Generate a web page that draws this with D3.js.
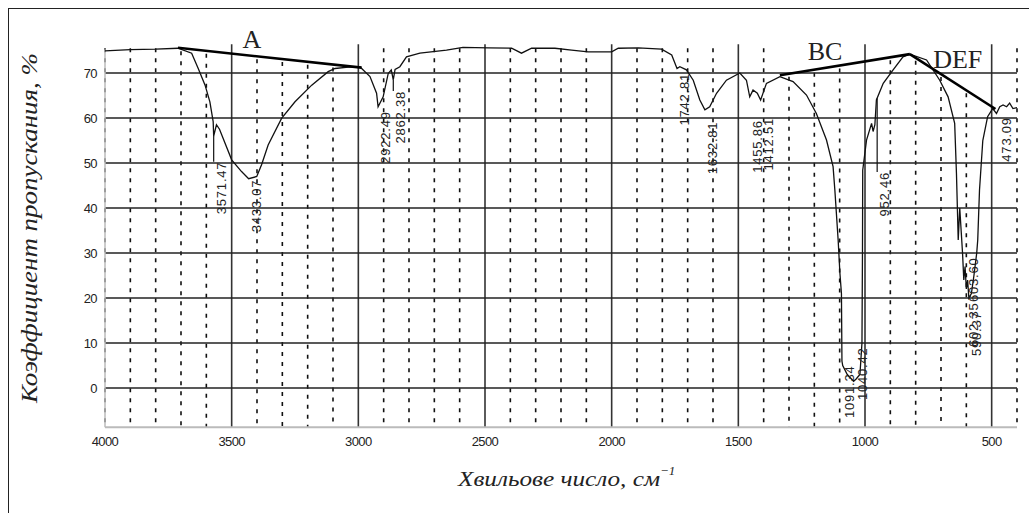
<!DOCTYPE html>
<html>
<head>
<meta charset="utf-8">
<script src="https://cdn.jsdelivr.net/npm/d3@7"></script>
<style>
body { margin: 0; background: #fff; }
</style>
</head>
<body>
<div id="chart"></div>
<script>
// spectrum (cm-1, %)
var waveNum = [4000, 3900, 3800, 3712, 3658, 3632, 3605, 3586, 3573, 3571, 3560, 3548, 3500, 3461, 3433, 3401,
    3382, 3356, 3303, 3250, 3184, 3119, 3092, 3040, 2994, 2954, 2928, 2922, 2902, 2882, 2870, 2862, 2855,
    2836, 2810, 2757, 2652, 2587, 2487, 2395, 2356, 2316, 2224, 2158, 2093, 2000, 1974, 1895, 1803, 1763,
    1742, 1731, 1705, 1678, 1652, 1632, 1613, 1586, 1547, 1494, 1468, 1455, 1442, 1425, 1412, 1389, 1336,
    1284, 1231, 1192, 1152, 1126, 1119, 1106, 1099, 1093, 1091, 1088, 1070, 1045, 1035, 1020, 1012, 1010,
    1009, 994, 974, 968, 961, 955, 928, 889, 850, 823, 757, 705, 672, 646, 639, 632, 626, 615, 610, 605,
    600, 595, 590, 580, 570, 559, 555, 548, 535, 516, 496, 481, 468, 455, 441, 429, 416, 400];
var transm = [74.9, 75.2, 75.3, 75.5, 74.4, 71, 67.3, 63.6, 59.2, 56.0, 58.5, 57.5, 50.7, 48.1, 46.5, 47.0,
    49.6, 54, 59.9, 63.6, 67.3, 70.3, 71, 71.3, 71.4, 69.2, 65.5, 62.5, 64.7, 69.9, 70.7, 68.5, 70.8,
    71.4, 73.6, 74.4, 75.1, 75.7, 75.6, 75.5, 74.4, 75.5, 75.5, 75.1, 74.7, 74.7, 75.5, 75.6, 75.3, 74.0,
    71.0, 71.4, 70.7, 68.4, 64, 61.8, 62.5, 65.5, 68.4, 70, 68.4, 64.7, 66.2, 65.5, 64, 67.7, 69.2,
    68.1, 65.1, 61, 55.1, 49.2, 44, 32.9, 25.5, 21, 6, 5, 3, 1.5, 2, 3, 10, 30,
    48.4, 55.1, 58.8, 57.0, 58.5, 64, 67.7, 70.7, 73.6, 74.2, 72.9, 68.4, 64.7, 58.8, 47.7, 32.9, 40, 30, 24, 27,
    22, 24, 20, 21, 25, 30, 32.9, 44, 55, 60.3, 62.1, 61, 62.5, 62.9, 62.5, 63.3, 62.1, 62.3];

var xTicks = [4000, 3500, 3000, 2500, 2000, 1500, 1000, 500];
var yTicks = [0, 10, 20, 30, 40, 50, 60, 70];

// peak labels: position, text, value where the label starts, leader line or not
var peakWn = [3571, 3433, 2922, 2862, 1742, 1632, 1455, 1412, 952, 1091, 1040, 603, 600, 590, 473];
var peakText = ["3571.47", "3433.07", "2922.49", "2862.38", "1742.81", "1632.81", "1455.86", "1412.51",
    "952.46", "1091.34", "1040.42", "603.60", "602.35", "590.37", "473.09"];
var peakTop = [50.3, 46.3, 61.5, 66, 70, 59.2, 59.5, 60, 48, 5, 9, 29, 19, 17, 60.2];
var peakLead = [1, 0, 0, 1, 0, 0, 0, 0, 1, 0, 0, 0, 0, 0, 0];

// baselines drawn over the bands
var baseA = [[3712, 75.6], [2987, 71.2]];
var baseBC = [[1336, 69.5], [823, 74.2]];
var baseDEF = [[823, 74.2], [485, 62]];
var bandNames = ["A", "BC", "DEF"];
var bandWn = [3420, 1158, 634];
var bandT = [75.6, 72.9, 71.1];

var width = 1029,
    height = 513;

var svg = d3.select("#chart")
    .append("svg")
    .attr("width", width)
    .attr("height", height);

var x = d3.scaleLinear().domain([4000, 400]).range([105, 1017]);
var y = d3.scaleLinear().domain([0, 70]).range([388, 73]);

var yBot = y(-8.7);

function interp(pts, w) {
    var a = pts[0], b = pts[1];
    return a[1] + (b[1] - a[1]) * (w - a[0]) / (b[0] - a[0]);
}
// where the dashed lines start: under the baselines if there is one
function dashTop(w) {
    var top = y(75.5);
    [baseA, baseBC, baseDEF].forEach(function(b) {
        if (w <= b[0][0] && w >= b[1][0]) top = Math.max(top, y(interp(b, w)) + 3);
    });
    return top;
}

// outer frame
svg.append("line").attr("x1", 8.5).attr("x2", 8.5).attr("y1", 8).attr("y2", height).attr("stroke", "#222");
svg.append("line").attr("x1", 8).attr("x2", width).attr("y1", 8.5).attr("y2", 8.5).attr("stroke", "#222");

// dashed grid every 100
var minor = d3.range(4000, 399, -100).filter(function(d) { return d % 500 !== 0 || d === 4000; });
svg.append("g").selectAll("line")
    .data(minor)
    .enter().append("line")
    .attr("x1", function(d) { return x(d); })
    .attr("x2", function(d) { return x(d); })
    .attr("y1", function(d) { return dashTop(d); })
    .attr("y2", yBot)
    .attr("stroke", "#111")
    .attr("stroke-width", 1.6)
    .attr("stroke-dasharray", "4,6");

// solid grid
svg.append("g").selectAll("line")
    .data(xTicks.slice(1))
    .enter().append("line")
    .attr("x1", function(d) { return x(d); })
    .attr("x2", function(d) { return x(d); })
    .attr("y1", y(76.4))
    .attr("y2", yBot)
    .attr("stroke", "#333")
    .attr("stroke-width", 1.6);

svg.append("g").selectAll("line")
    .data(yTicks)
    .enter().append("line")
    .attr("x1", x(4000))
    .attr("x2", x(400))
    .attr("y1", function(d) { return y(d); })
    .attr("y2", function(d) { return y(d); })
    .attr("stroke", "#222")
    .attr("stroke-width", 1.6);

// axes
svg.append("line").attr("x1", x(4000)).attr("x2", x(400)).attr("y1", yBot).attr("y2", yBot)
    .attr("stroke", "#bbb").attr("stroke-width", 2);
svg.append("line").attr("x1", x(4000)).attr("x2", x(4000)).attr("y1", y(75.3)).attr("y2", yBot)
    .attr("stroke", "#bbb").attr("stroke-width", 1.5);

svg.append("g").selectAll("text")
    .data(xTicks)
    .enter().append("text")
    .attr("x", function(d) { return x(d); })
    .attr("y", yBot + 19)
    .attr("text-anchor", "middle")
    .attr("font-family", "Liberation Sans, Arial, sans-serif")
    .attr("font-size", 13)
    .attr("letter-spacing", -0.6)
    .attr("fill", "#222")
    .text(function(d) { return d; });

svg.append("g").selectAll("text")
    .data(yTicks)
    .enter().append("text")
    .attr("x", 97)
    .attr("y", function(d) { return y(d) + 5; })
    .attr("text-anchor", "end")
    .attr("font-family", "Liberation Sans, Arial, sans-serif")
    .attr("font-size", 13)
    .attr("letter-spacing", -0.6)
    .attr("fill", "#222")
    .text(function(d) { return d; });

// axis titles
svg.append("text")
    .attr("transform", "translate(37,228) rotate(-90)")
    .attr("text-anchor", "middle")
    .attr("font-family", "Liberation Serif, serif")
    .attr("font-style", "italic")
    .attr("font-size", 24)
    .attr("textLength", 350)
    .attr("lengthAdjust", "spacingAndGlyphs")
    .attr("fill", "#222")
    .text("Коэффициент пропускания, %");

var xt = svg.append("text")
    .attr("x", 458)
    .attr("y", 486)
    .attr("font-family", "Liberation Serif, serif")
    .attr("font-style", "italic")
    .attr("font-size", 21)
    .attr("fill", "#222");
xt.append("tspan").attr("textLength", 202).attr("lengthAdjust", "spacingAndGlyphs").text("Хвильове число, см");
xt.append("tspan").attr("font-size", 13).attr("dy", -11).text("−1");

// spectrum
var spectrum = waveNum.map(function(d, i) { return [d, transm[i]]; });
var line = d3.line()
    .x(function(d) { return x(d[0]); })
    .y(function(d) { return y(d[1]); });

svg.append("path")
    .datum(spectrum)
    .attr("fill", "none")
    .attr("stroke", "#111")
    .attr("stroke-width", 1.3)
    .attr("d", line);

// baselines
[baseA, baseBC, baseDEF].forEach(function(b) {
    svg.append("path")
        .datum(b)
        .attr("fill", "none")
        .attr("stroke", "#000")
        .attr("stroke-width", 2.6)
        .attr("d", line);
});

svg.append("g").selectAll("text")
    .data(bandNames)
    .enter().append("text")
    .attr("x", function(d, i) { return x(bandWn[i]); })
    .attr("y", function(d, i) { return y(bandT[i]); })
    .attr("text-anchor", "middle")
    .attr("font-family", "Liberation Serif, serif")
    .attr("font-size", 26)
    .attr("fill", "#222")
    .text(function(d) { return d; });

// peak leaders and labels
var asc = spectrum.slice().reverse();
function valueAt(w) {
    var i = d3.bisector(function(d) { return d[0]; }).left(asc, w);
    if (i <= 0) return asc[0][1];
    if (i >= asc.length) return asc[asc.length - 1][1];
    var a = asc[i - 1], b = asc[i];
    return a[1] + (b[1] - a[1]) * (w - a[0]) / (b[0] - a[0]);
}

svg.append("g").selectAll("line")
    .data(peakWn.filter(function(d, i) { return peakLead[i]; }))
    .enter().append("line")
    .attr("x1", function(d) { return x(d); })
    .attr("x2", function(d) { return x(d); })
    .attr("y1", function(d) { return y(valueAt(d)); })
    .attr("y2", function(d) { return y(peakTop[peakWn.indexOf(d)]); })
    .attr("stroke", "#111")
    .attr("stroke-width", 1.2);

svg.append("g").selectAll("text")
    .data(peakText)
    .enter().append("text")
    .attr("transform", function(d, i) {
        return "translate(" + (x(peakWn[i]) + 12) + "," + y(peakTop[i]) + ") rotate(-90)";
    })
    .attr("text-anchor", "end")
    .attr("font-family", "Liberation Sans, Arial, sans-serif")
    .attr("font-size", 13)
    .attr("letter-spacing", 0.8)
    .attr("fill", "#222")
    .text(function(d) { return d; });
</script>
</body>
</html>
